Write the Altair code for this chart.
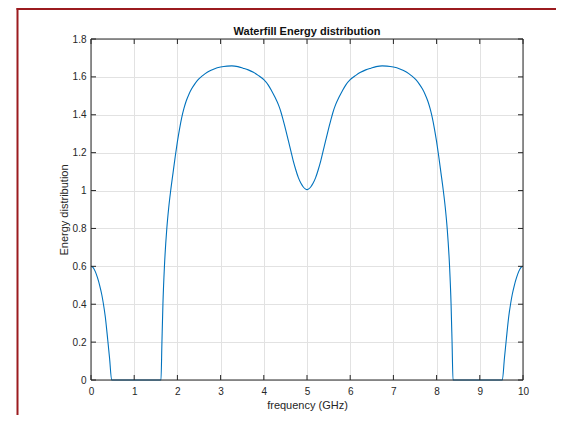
import altair as alt
import pandas as pd

# ---- data ----
freq = [
    0.00, 0.05, 0.10, 0.15, 0.20, 0.25, 0.285, 0.33, 0.386, 0.43, 0.478,
    1.620, 1.642, 1.665, 1.700, 1.755, 1.800, 1.845, 1.900, 1.950, 2.000,
    2.050, 2.100, 2.150, 2.200, 2.270, 2.330, 2.400, 2.480, 2.585, 2.700,
    2.850, 3.000, 3.150, 3.260, 3.400, 3.520, 3.640, 3.760, 3.870,
    4.000, 4.100, 4.180, 4.260, 4.340, 4.400, 4.450, 4.510, 4.570, 4.630,
    4.680, 4.740, 4.800, 4.860, 4.910, 4.960, 5.000,
    5.040, 5.090, 5.140, 5.200, 5.260, 5.320, 5.370, 5.430, 5.490, 5.550,
    5.600, 5.660, 5.740, 5.820, 5.900, 6.000,
    6.130, 6.240, 6.360, 6.480, 6.600, 6.740, 6.850, 7.000, 7.150,
    7.300, 7.415, 7.520, 7.600, 7.670, 7.730, 7.800, 7.850, 7.900, 7.950,
    8.000, 8.050, 8.100, 8.155, 8.200, 8.245, 8.300, 8.335, 8.358, 8.380,
    9.522, 9.570, 9.614, 9.670, 9.715, 9.750, 9.800, 9.850, 9.900, 9.950, 10.00,
]
energy = [
    0.600, 0.593, 0.572, 0.540, 0.500, 0.450, 0.405, 0.335, 0.215, 0.115, 0.000,
    0.000, 0.200, 0.400, 0.600, 0.800, 0.912, 1.000, 1.095, 1.180, 1.258,
    1.326, 1.385, 1.432, 1.470, 1.510, 1.537, 1.562, 1.585, 1.607, 1.626,
    1.642, 1.652, 1.657, 1.658, 1.654, 1.646, 1.637, 1.624, 1.608,
    1.585, 1.558, 1.527, 1.492, 1.452, 1.412, 1.370, 1.318, 1.262, 1.205,
    1.158, 1.110, 1.068, 1.038, 1.020, 1.009, 1.005,
    1.009, 1.020, 1.038, 1.068, 1.110, 1.158, 1.205, 1.262, 1.318, 1.370,
    1.412, 1.452, 1.492, 1.527, 1.558, 1.585,
    1.608, 1.624, 1.637, 1.646, 1.654, 1.658, 1.657, 1.652, 1.642,
    1.626, 1.607, 1.585, 1.562, 1.537, 1.510, 1.470, 1.432, 1.385, 1.326,
    1.258, 1.180, 1.095, 1.000, 0.912, 0.800, 0.600, 0.400, 0.200, 0.000,
    0.000, 0.115, 0.215, 0.335, 0.405, 0.450, 0.500, 0.540, 0.572, 0.593, 0.600,
]
x_ticks = [0, 1, 2, 3, 4, 5, 6, 7, 8, 9, 10]
y_ticks = [0, 0.2, 0.4, 0.6, 0.8, 1, 1.2, 1.4, 1.6, 1.8]

TITLE = "Waterfill Energy distribution"
X_TITLE = "frequency (GHz)"
Y_TITLE = "Energy distribution"

# ---- style ----
W, H = 432, 341
PAD = {"left": 83, "top": 31, "right": 33, "bottom": 35}
AX = "#262626"
LINE = "#0072BD"
RED = "#9b1b1f"
FONT = "Liberation Sans"
TICK = 5

df = pd.DataFrame({"f": freq, "E": energy})
xt = pd.DataFrame({"t": x_ticks})
yt = pd.DataFrame({"t": y_ticks})
one = pd.DataFrame({"k": [0]})

xs = alt.Scale(domain=[0, 10], nice=False, zero=False)
ys = alt.Scale(domain=[0, 1.8], nice=False, zero=False)

x_axis = alt.Axis(values=x_ticks, title=X_TITLE, grid=True, labelPadding=6,
                  labelFlush=False, titleY=28, titleBaseline="alphabetic",
                  format="d")
y_axis = alt.Axis(values=y_ticks, title=Y_TITLE, grid=True, labelPadding=5,
                  labelFlush=False, format="~g", titleX=-24, titleY=H / 2,
                  titleAngle=270, titleAlign="center",
                  titleBaseline="alphabetic")

line = alt.Chart(df).mark_line(color=LINE, strokeWidth=1.1, interpolate="monotone").encode(
    x=alt.X("f:Q", scale=xs, axis=x_axis),
    y=alt.Y("E:Q", scale=ys, axis=y_axis),
)

def xtick(y0, y1):
    return alt.Chart(xt).mark_rule(color=AX, strokeWidth=1).encode(
        x=alt.X("t:Q", scale=xs, axis=x_axis), y=alt.value(y0), y2=alt.value(y1))

def ytick(x0, x1):
    return alt.Chart(yt).mark_rule(color=AX, strokeWidth=1).encode(
        y=alt.Y("t:Q", scale=ys, axis=y_axis), x=alt.value(x0), x2=alt.value(x1))

def rule(**kw):
    return alt.Chart(one).mark_rule(color=kw.pop("color", AX),
                                    strokeWidth=kw.pop("sw", 1)).encode(
        **{k: alt.value(v) for k, v in kw.items()})

box = [
    rule(x=0, y=0, y2=H),
    rule(x=W, y=0, y2=H),
    rule(x=0, x2=W, y=0),
    rule(x=0, x2=W, y=H),
]
frame = [
    rule(color=RED, sw=2, x=-73.5, y=-31, y2=H + PAD["bottom"]),
    rule(color=RED, sw=2, x=-74.5, x2=W + PAD["right"], y=-30),
]
title = alt.Chart(one).mark_text(
    text=TITLE, font=FONT, fontSize=11, fontWeight="bold", color="#111111",
    align="center", baseline="alphabetic",
).encode(x=alt.value(W / 2), y=alt.value(-4))

chart = alt.layer(
    line,
    xtick(H, H - TICK), xtick(0, TICK),
    ytick(0, TICK), ytick(W, W - TICK),
    *box, *frame, title,
).properties(
    width=W, height=H, padding=PAD,
    autosize=alt.AutoSizeParams(type="none"),
).configure_axis(
    labelFont=FONT, labelFontSize=10, labelColor=AX,
    titleFont=FONT, titleFontSize=11, titleColor=AX, titleFontWeight="normal",
    gridColor="#e2e2e2", gridWidth=1, ticks=False, domain=False,
).configure_view(stroke="transparent")

chart.save("out.html", embed_options={"renderer": "svg", "actions": False})
